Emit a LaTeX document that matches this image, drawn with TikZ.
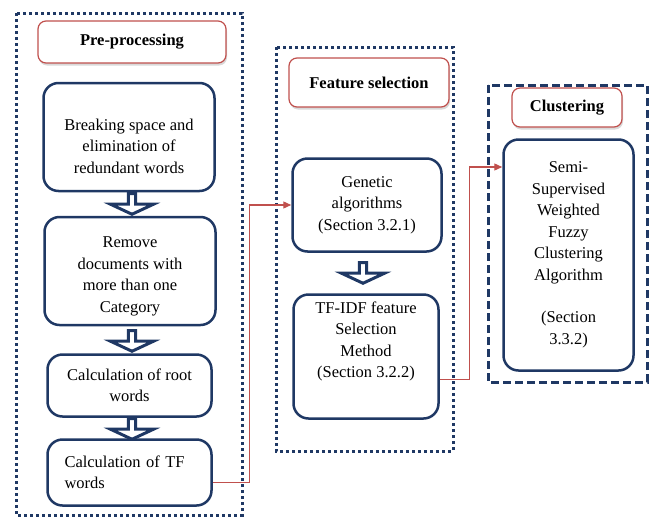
\documentclass[tikz,border=0pt]{standalone}
\usepackage{fontspec}
\setmainfont{Liberation Serif}
\usetikzlibrary{arrows.meta,shapes.arrows,shadows}
\definecolor{navy}{HTML}{1F3864}
\definecolor{brick}{HTML}{C0504D}

\begin{document}
\begin{tikzpicture}[x=1pt, y=-1pt,
  font=\fontsize{16.5}{21.5}\selectfont,
  stage/.style={draw=navy, line width=2.5pt, rounded corners=15pt, fill=white, align=center, inner sep=2pt},
  heading/.style={draw=brick, line width=1.2pt, rounded corners=8pt, fill=white, font=\fontsize{16.5}{21}\selectfont\bfseries,
    drop shadow={shadow xshift=1pt, shadow yshift=-2.5pt, opacity=0.3}},
  group/.style={draw=navy, line width=3pt, dash pattern=on 3pt off 3pt},
  groupdash/.style={draw=navy, line width=3pt, dash pattern=on 8pt off 4pt},
  flow/.style={single arrow, shape border rotate=270, draw=navy, fill=white, line width=3pt,
    minimum height=15pt, minimum width=43pt, inner xsep=0pt, inner ysep=8pt, single arrow tip angle=130},
  link/.style={draw=brick, line width=1.3pt, -{Triangle[length=8pt,width=7pt]}}]
\useasboundingbox (0,0) rectangle (650,517);

% Groups
\draw[group] (16,13) rectangle (242,515);
\draw[group] (276,47) rectangle (453,451);
\draw[groupdash] (488,85) rectangle (647,382);

% Pre-processing
\node[heading, minimum width=188pt, minimum height=42pt] (pre) at (132,42) {Pre-processing};
\node[stage, minimum width=171pt, minimum height=108pt] (brk) at (129,137) {\mbox{}\\[8pt]Breaking space and\\elimination of\\redundant words};
\node[stage, minimum width=171pt, minimum height=108pt] (rmv) at (130,271) {\mbox{}\\[0pt]Remove\\documents with\\more than one\\Category};
\node[stage, minimum width=164pt, minimum height=62pt] (root) at (129.5,385.5) {Calculation of root\\words};
\node[stage, minimum width=164pt, minimum height=66pt, align=left, text width=130pt] (tfw) at (129.5,472.5) {Calculation of TF\\words};

\node[flow] (f1) at (132,203) {};
\node[flow] (f2) at (132,340) {};
\node[flow, minimum height=13pt] (f3) at (132,428) {};

% Feature selection
\node[heading, minimum width=160pt, minimum height=49pt] (fsel) at (369,82.5) {Feature selection};
\node[stage, minimum width=149pt, minimum height=93pt] (gen) at (367,205) {Genetic\\algorithms\\(Section 3.2.1)};
\node[stage, minimum width=145pt, minimum height=124pt] (tfidf) at (366,356.5) {TF-IDF feature\\Selection\\Method\\(Section 3.2.2)\\[12pt]};

\node[flow] (f4) at (363,272) {};

% Clustering
\node[heading, minimum width=110pt, minimum height=39pt] (clu) at (567,107.5) {Clustering};
\node[stage, minimum width=130pt, minimum height=231pt] (ssw) at (568.5,255) {Semi-\\Supervised\\Weighted\\Fuzzy\\Clustering\\Algorithm\\[21pt](Section\\3.3.2)};

% Links
\draw[link] ([yshift=-10pt]tfw.east) -- ++(37,0) |- (gen.west);
\draw[link] ([yshift=-23pt]tfidf.east) -- ++(30,0) |- ([yshift=88pt]ssw.west);
\end{tikzpicture}
\end{document}
